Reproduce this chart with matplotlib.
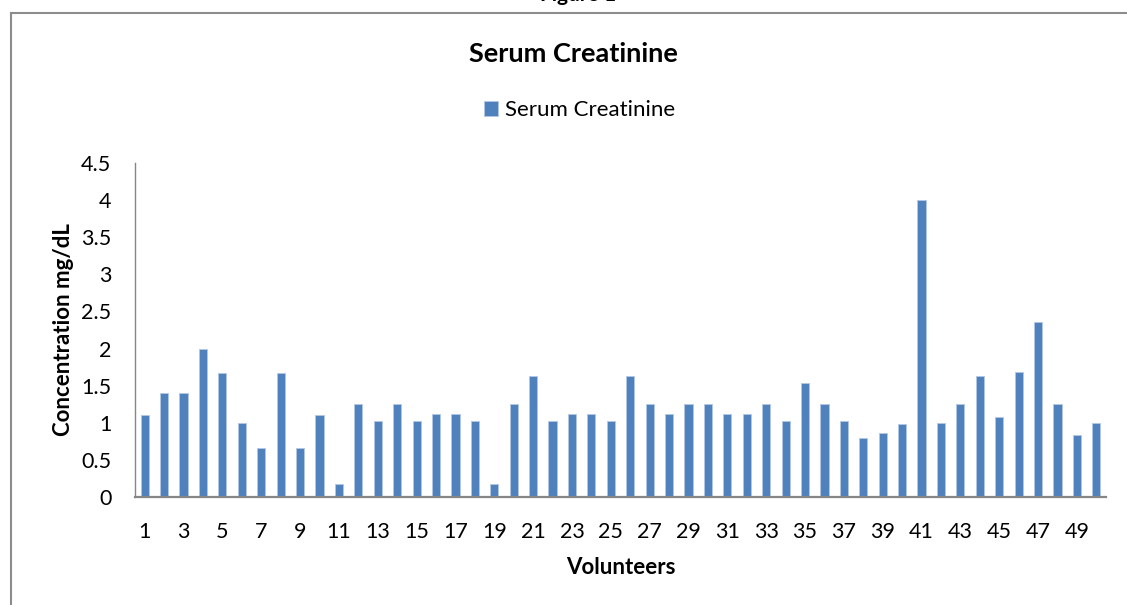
import numpy as np
import matplotlib.pyplot as plt
from matplotlib.lines import Line2D

plt.rcParams['font.family'] = ['Lato', 'DejaVu Sans']

# serum creatinine per volunteer (mg/dL)
volunteers = list(range(1, 51))
creatinine = [1.10, 1.40, 1.40, 2.00, 1.67, 1.00, 0.66, 1.67, 0.66, 1.10,
              0.18, 1.25, 1.02, 1.25, 1.02, 1.12, 1.12, 1.02, 0.18, 1.25,
              1.63, 1.02, 1.12, 1.12, 1.02, 1.63, 1.25, 1.12, 1.25, 1.25,
              1.12, 1.12, 1.25, 1.02, 1.53, 1.25, 1.02, 0.80, 0.86, 0.98,
              4.00, 1.00, 1.25, 1.63, 1.08, 1.69, 2.36, 1.25, 0.83, 1.00]
y_ticks = [0, 0.5, 1, 1.5, 2, 2.5, 3, 3.5, 4, 4.5]
y_labels = ['0', '0.5', '1', '1.5', '2', '2.5', '3', '3.5', '4', '4.5']

fig = plt.figure(figsize=(11.27, 6.05), dpi=100)
ax = fig.add_axes([0.1198, 0.1785, 0.8616, 0.5521])

x = np.arange(len(volunteers))
ax.bar(x, creatinine, width=0.42, color='#4F81BD', edgecolor='#B3C8E3',
       linewidth=0.6, label='Serum Creatinine', zorder=2)

ax.set_xlim(-0.5, len(volunteers) - 0.5)
ax.set_ylim(0, 4.5)
ax.set_yticks(y_ticks)
ax.set_yticklabels(y_labels)
ax.set_xticks(x[::2])
ax.set_xticklabels([str(v) for v in volunteers[::2]])
ax.tick_params(axis='both', length=0, labelsize=15.5, colors='black')
ax.tick_params(axis='y', pad=17)
ax.tick_params(axis='x', pad=18)

for s in ['top', 'right']:
    ax.spines[s].set_visible(False)
for s in ['left', 'bottom']:
    ax.spines[s].set_color('#868686')
ax.spines['left'].set_linewidth(1.0)
ax.spines['bottom'].set_linewidth(1.6)

ax.set_xlabel('Volunteers', fontsize=16, fontweight='bold', labelpad=11)
ax.set_ylabel('Concentration mg/dL', fontsize=16, fontweight='bold', labelpad=5)

fig.text(0.5085, 1 - 54 / 605, 'Serum Creatinine', ha='center', va='center',
         fontsize=19.5, fontweight='bold')
fig.legend(loc='center', bbox_to_anchor=(0.514, 1 - 110 / 605), frameon=False,
           fontsize=16, handlelength=0.65, handleheight=0.65, handletextpad=0.3)

# partially visible caption above the chart frame
fig.text(0.5125, 1 + 5 / 605, 'Figure 1', ha='center', va='center',
         fontsize=15, fontweight='bold')

# chart frame (only left and top edges are inside the picture)
fig.add_artist(Line2D([11 / 1127, 11 / 1127], [0, 1 - 13 / 605],
                      transform=fig.transFigure, color='#8C8C8C', lw=1.5))
fig.add_artist(Line2D([11 / 1127, 1], [1 - 13 / 605, 1 - 13 / 605],
                      transform=fig.transFigure, color='#8C8C8C', lw=1.5))

fig.savefig('out.png', dpi=100)
